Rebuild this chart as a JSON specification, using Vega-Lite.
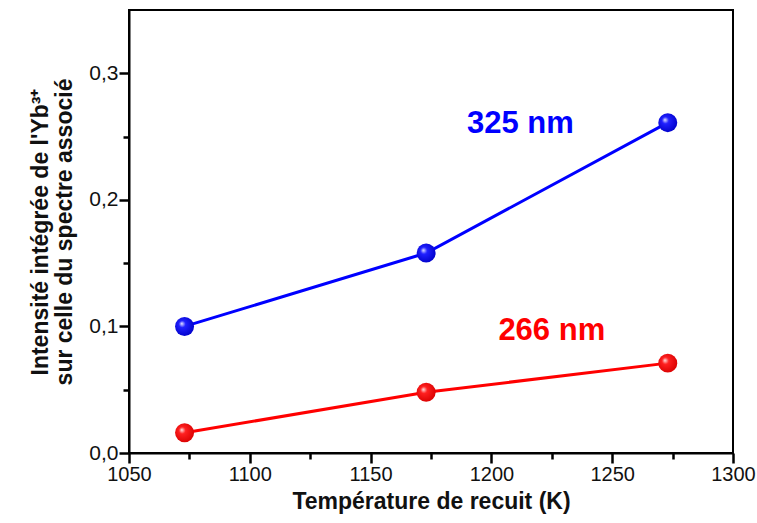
{
  "$schema": "https://vega.github.io/schema/vega-lite/v6.json",
  "autosize": "none",
  "width": 604,
  "height": 443,
  "padding": {"left": 129, "top": 10, "right": 24, "bottom": 70},
  "background": "white",
  "config": {
    "view": {"stroke": "black", "strokeWidth": 2},
    "font": "Liberation Sans"
  },
  "datasets": {
    "pts": [
      {"T": 1073, "I": 0.100, "s": "325 nm"},
      {"T": 1173, "I": 0.158, "s": "325 nm"},
      {"T": 1273, "I": 0.261, "s": "325 nm"},
      {"T": 1073, "I": 0.016, "s": "266 nm"},
      {"T": 1173, "I": 0.048, "s": "266 nm"},
      {"T": 1273, "I": 0.071, "s": "266 nm"}
    ],
    "labels": [
      {"T": 1212, "I": 0.26, "s": "325 nm"},
      {"T": 1225, "I": 0.0966, "s": "266 nm"}
    ]
  },
  "encoding": {
    "x": {"field": "T", "type": "quantitative", "scale": {"domain": [1050, 1300], "nice": false, "zero": false},
      "axis": {"title": "Température de recuit (K)", "values": [1050, 1075, 1100, 1125, 1150, 1175, 1200, 1225, 1250, 1275, 1300],
        "format": "d", "grid": false, "ticks": true, "domain": true, "domainColor": "#000", "domainWidth": 2,
        "tickColor": "#000", "tickWidth": 2.5,
        "tickSize": {"condition": {"test": "datum.value % 50 == 0", "value": 10}, "value": 6},
        "labelColor": "#111", "labelFont": "Liberation Sans", "labelFontSize": 20,
        "titleFont": "Liberation Sans", "titleFontSize": 23, "titleFontWeight": "bold", "titleColor": "#111",
        "labelExpr": "datum.value % 50 == 0 ? datum.label : ''",
        "labelPadding": 1, "titlePadding": 6, "labelFlush": false}},
    "y": {"field": "I", "type": "quantitative", "scale": {"domain": [0, 0.35], "nice": false},
      "axis": {"title": ["Intensité intégrée de l'Yb³⁺", "sur celle du spectre associé"], "values": [0, 0.05, 0.1, 0.15, 0.2, 0.25, 0.3],
        "grid": false, "ticks": true, "domain": true, "domainColor": "#000", "domainWidth": 2,
        "tickColor": "#000", "tickWidth": 2.5,
        "tickSize": {"condition": {"test": "abs(datum.value*10 - round(datum.value*10)) < 0.001", "value": 10}, "value": 6},
        "labelColor": "#111", "labelFont": "Liberation Sans", "labelFontSize": 21,
        "titleFont": "Liberation Sans", "titleFontSize": 23, "titleFontWeight": "bold", "titleColor": "#111",
        "labelExpr": "abs(datum.value*10 - round(datum.value*10)) < 0.001 ? replace(format(datum.value, '.1f'), '.', ',') : ''",
        "labelPadding": 1, "titlePadding": 12, "titleLineHeight": 24}},
    "color": {"field": "s", "type": "nominal", "scale": {"domain": ["325 nm", "266 nm"], "range": ["#0000ff", "#ff0000"]}, "legend": null}
  },
  "layer": [
    {"data": {"name": "pts"}, "mark": {"type": "line", "strokeWidth": 3}},
    {"data": {"name": "pts"}, "transform": [{"filter": "datum.s == '325 nm'"}],
      "mark": {"type": "point", "filled": true, "size": 360, "opacity": 1,
        "fill": {"gradient": "radial", "x1": 0.35, "y1": 0.35, "x2": 0.45, "y2": 0.45, "r1": 0, "r2": 0.6,
          "stops": [{"offset": 0, "color": "#e6e6ff"}, {"offset": 0.3, "color": "#2020ff"}, {"offset": 1, "color": "#0000c8"}]}},
      "encoding": {"color": {"value": null}}},
    {"data": {"name": "pts"}, "transform": [{"filter": "datum.s == '266 nm'"}],
      "mark": {"type": "point", "filled": true, "size": 360, "opacity": 1,
        "fill": {"gradient": "radial", "x1": 0.35, "y1": 0.35, "x2": 0.45, "y2": 0.45, "r1": 0, "r2": 0.6,
          "stops": [{"offset": 0, "color": "#ffe6e6"}, {"offset": 0.3, "color": "#ff2020"}, {"offset": 1, "color": "#d80000"}]}},
      "encoding": {"color": {"value": null}}},
    {"data": {"name": "labels"}, "mark": {"type": "text", "font": "Liberation Sans", "fontSize": 31, "fontWeight": "bold", "align": "center", "baseline": "middle"},
      "encoding": {"text": {"field": "s"}}}
  ]
}
